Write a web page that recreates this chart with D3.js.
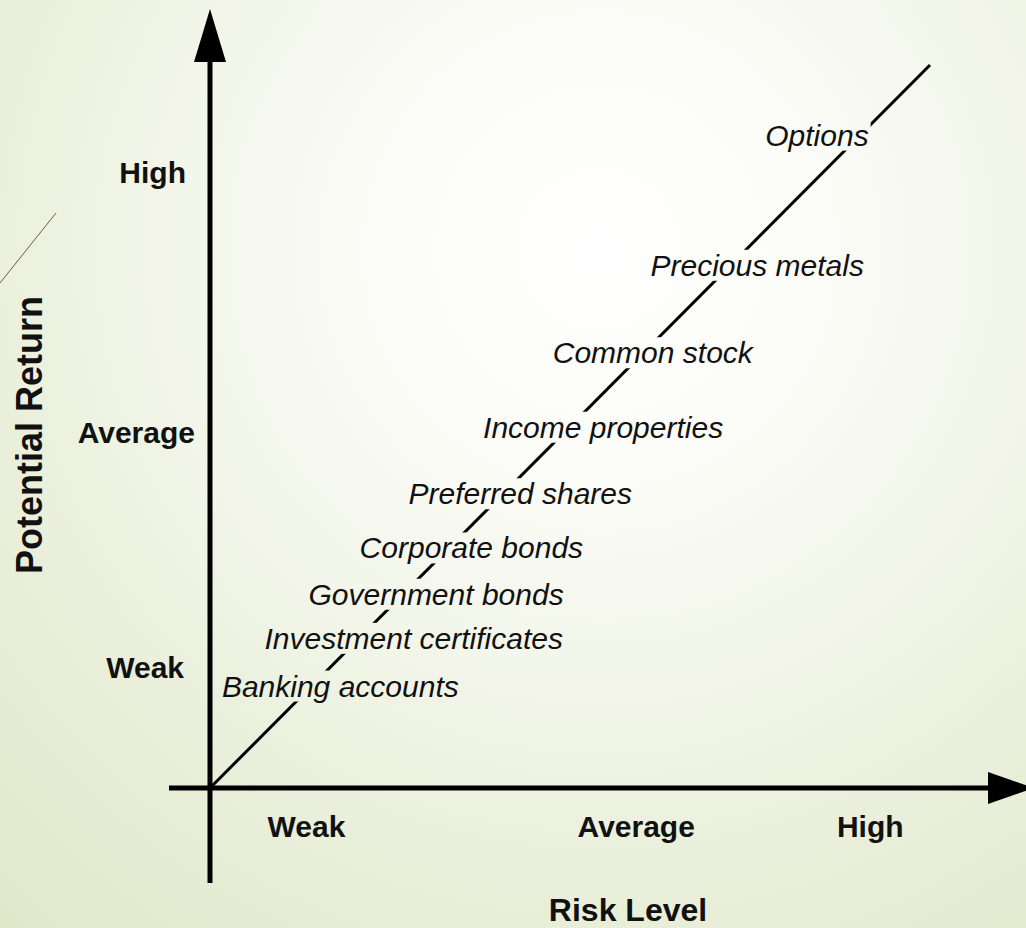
<!DOCTYPE html>
<html><head><meta charset="utf-8">
<script src="https://cdn.jsdelivr.net/npm/d3@7"></script>
<style>html,body{margin:0;padding:0;overflow:hidden;}</style>
</head><body>
<svg id="chart" width="1026" height="928"></svg>
<script>
// ---- data ----
const investments = ["Options","Precious metals","Common stock","Income properties","Preferred shares","Corporate bonds","Government bonds","Investment certificates","Banking accounts"];
const investRisk   = [84.3, 76.0, 61.5, 54.6, 43.1, 36.3, 31.4, 28.3, 18.1];
const investReturn = [90.3, 72.3, 60.2, 49.9, 40.7, 33.2, 26.8, 20.7, 14.1];
const levelLabels = ["Weak","Average","High"];
const xTickPos = [13.4, 59.2, 91.7];
const yTickPos = [16.7, 49.2, 85.1];
const trendLine = [[0,0],[100,100]];
const xTitle = "Risk Level";
const yTitle = "Potential Return";

// ---- layout ----
const svg = d3.select("#chart");
const W = 1026, H = 928;
const x = d3.scaleLinear().domain([0,100]).range([210,930]);
const y = d3.scaleLinear().domain([0,100]).range([788,65]);
const defs = svg.append("defs");
const grad = defs.append("radialGradient").attr("id","bg")
  .attr("gradientUnits","userSpaceOnUse").attr("cx",600).attr("cy",250).attr("r",900);
grad.append("stop").attr("offset","0%").attr("stop-color","#ffffff");
grad.append("stop").attr("offset","25%").attr("stop-color","#fbfcf7");
grad.append("stop").attr("offset","70%").attr("stop-color","#eaefdb");
grad.append("stop").attr("offset","100%").attr("stop-color","#e0e8ca");
svg.append("rect").attr("width",W).attr("height",H).attr("fill","url(#bg)");

// decorative thin line top-left
svg.append("line").attr("x1",0).attr("y1",283).attr("x2",56).attr("y2",213)
  .attr("stroke","#6b5a45").attr("stroke-width",1);

const font = "'Liberation Sans', Arial, sans-serif";
const lblG = svg.append("g");
const labels = lblG.selectAll("text").data(investments).join("text")
  .attr("x",(d,i)=>x(investRisk[i])).attr("y",(d,i)=>y(investReturn[i]))
  .attr("text-anchor","middle").attr("dominant-baseline","central")
  .attr("font-family",font).attr("font-style","italic").attr("font-size",30)
  .attr("fill","#111").text(d=>d);

// mask so the diagonal is broken behind the labels
const mask = defs.append("mask").attr("id","lineMask").attr("maskUnits","userSpaceOnUse")
  .attr("x",0).attr("y",0).attr("width",W).attr("height",H);
mask.append("rect").attr("width",W).attr("height",H).attr("fill","white");
labels.each(function(){
  const b = this.getBBox();
  mask.append("rect").attr("x",b.x-2).attr("y",b.y+1).attr("width",b.width+4).attr("height",b.height-2).attr("fill","black");
});
svg.insert("path", "g").datum(trendLine)
  .attr("d", d3.line().x(d=>x(d[0])).y(d=>y(d[1])))
  .attr("stroke","#000").attr("stroke-width",3).attr("fill","none")
  .attr("mask","url(#lineMask)");

// axes
svg.append("line").attr("x1",210).attr("y1",883).attr("x2",210).attr("y2",55)
  .attr("stroke","#000").attr("stroke-width",5);
svg.append("path").attr("d","M210,9 L194,62 L226,62 Z").attr("fill","#000");
svg.append("line").attr("x1",169).attr("y1",788).attr("x2",995).attr("y2",788)
  .attr("stroke","#000").attr("stroke-width",5);
svg.append("path").attr("d","M1034,788 L988,772 L988,804 Z").attr("fill","#000");

// tick labels
svg.append("g").selectAll("text").data(levelLabels).join("text")
  .attr("x",(d,i)=>x(xTickPos[i])).attr("y",826)
  .attr("text-anchor","middle").attr("dominant-baseline","central")
  .attr("font-family",font).attr("font-weight","bold").attr("font-size",30)
  .attr("fill","#111").text(d=>d);
svg.append("g").selectAll("text").data(levelLabels).join("text")
  .attr("x",(d,i)=>[184,195,186][i]).attr("y",(d,i)=>y(yTickPos[i]))
  .attr("text-anchor","end").attr("dominant-baseline","central")
  .attr("font-family",font).attr("font-weight","bold").attr("font-size",30)
  .attr("fill","#111").text(d=>d);

// titles
svg.append("text").attr("x",628).attr("y",921)
  .attr("text-anchor","middle")
  .attr("font-family",font).attr("font-weight","bold").attr("font-size",32)
  .attr("fill","#111").text(xTitle);
svg.append("text").attr("transform","translate(29,435) rotate(-90)")
  .attr("text-anchor","middle").attr("dominant-baseline","central")
  .attr("font-family",font).attr("font-weight","bold").attr("font-size",36)
  .attr("fill","#111").text(yTitle);
</script>
</body></html>
